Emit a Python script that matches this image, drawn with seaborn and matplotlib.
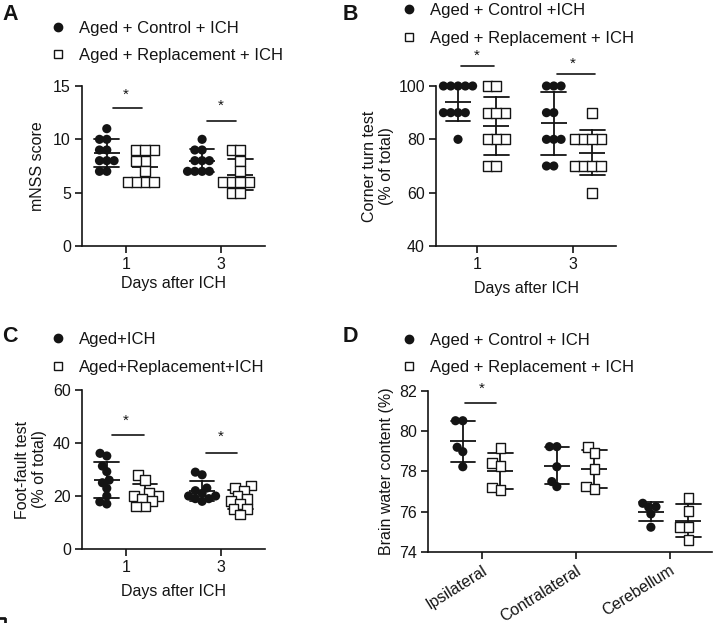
import numpy as np
import pandas as pd
import matplotlib
matplotlib.use("Agg")
import matplotlib.pyplot as plt
import seaborn as sns
from matplotlib.lines import Line2D

sns.set_style("ticks")
plt.rcParams["font.family"] = ["Liberation Sans", "DejaVu Sans"]
INK = "#141414"

# ---------------- data ----------------
groups = ["ctrl", "rep"]
days = ["1", "3"]
regions = ["Ipsilateral", "Contralateral", "Cerebellum"]

# A: mNSS score
A_ctrl_d1 = [11, 10, 10, 9, 9, 8, 8, 8, 7, 7]
A_rep_d1 = [9, 9, 9, 8, 8, 7, 6, 6, 6, 6]
A_ctrl_d3 = [10, 9, 9, 8, 8, 8, 7, 7, 7, 7]
A_rep_d3 = [9, 9, 8, 7, 6, 6, 6, 6, 5, 5]

# B: corner turn test
B_ctrl_d1 = [100, 100, 100, 100, 100, 90, 90, 90, 90, 80]
B_rep_d1 = [100, 100, 90, 90, 90, 80, 80, 80, 70, 70]
B_ctrl_d3 = [100, 100, 100, 90, 90, 80, 80, 80, 70, 70]
B_rep_d3 = [90, 80, 80, 80, 80, 70, 70, 70, 70, 60]

# C: foot-fault test
C_ctrl_d1 = [36.1, 35.1, 31.3, 29.2, 26.0, 25.0, 22.9, 20.0, 17.8, 17.0]
C_rep_d1 = [28, 26, 21, 20, 20, 19, 18, 16, 16]
C_ctrl_d3 = [29, 28, 23, 22, 21, 20, 20, 19, 19, 18]
C_rep_d3 = [24, 23, 22, 20, 19, 18, 17, 15, 15, 13]

# D: brain water content
D_ctrl_ipsi = [80.52, 80.52, 79.20, 78.98, 78.23]
D_rep_ipsi = [79.18, 78.43, 78.27, 77.20, 77.07]
D_ctrl_contra = [79.23, 79.23, 78.23, 77.49, 77.24]
D_rep_contra = [79.20, 78.93, 78.12, 77.24, 77.11]
D_ctrl_cereb = [76.41, 76.24, 76.21, 75.88, 75.22]
D_rep_cereb = [76.69, 76.03, 75.22, 75.22, 74.59]

labels_A = ["Aged + Control + ICH", "Aged + Replacement + ICH"]
labels_B = ["Aged + Control +ICH", "Aged + Replacement + ICH"]
labels_C = ["Aged+ICH", "Aged+Replacement+ICH"]
labels_D = ["Aged + Control + ICH", "Aged + Replacement + ICH"]


def build(cats, ctrl_lists, rep_lists):
    rows = []
    for c, cl, rl in zip(cats, ctrl_lists, rep_lists):
        rows += [(c, "ctrl", v) for v in cl]
        rows += [(c, "rep", v) for v in rl]
    return pd.DataFrame(rows, columns=["cat", "grp", "val"])


dfA = build(days, [A_ctrl_d1, A_ctrl_d3], [A_rep_d1, A_rep_d3])
dfB = build(days, [B_ctrl_d1, B_ctrl_d3], [B_rep_d1, B_rep_d3])
dfC = build(days, [C_ctrl_d1, C_ctrl_d3], [C_rep_d1, C_rep_d3])
dfD = build(regions, [D_ctrl_ipsi, D_ctrl_contra, D_ctrl_cereb],
            [D_rep_ipsi, D_rep_contra, D_rep_cereb])

# ---------------- figure ----------------
W, H = 717, 623
fig = plt.figure(figsize=(W / 100, H / 100), dpi=100)


def px_axes(x0, x1, ytop, ybot):
    return fig.add_axes([x0 / W, 1 - ybot / H, (x1 - x0) / W, (ybot - ytop) / H])


axA = px_axes(82, 265, 86, 246)
axB = px_axes(436, 616, 86, 246)
axC = px_axes(82, 265, 390, 549)
axD = px_axes(428, 712, 391, 551.7)
axes = [axA, axB, axC, axD]

LAYOUT_SIZE = 5.0      # swarm spacing (pt) -> slight overlap like GraphPad
CIRCLE_SIZE = 6.6
SQUARE_SIZE = 7.0


def draw(ax, df, order):
    common = dict(x="cat", y="val", hue="grp", order=order, hue_order=groups,
                  dodge=True, ax=ax, legend=False, size=LAYOUT_SIZE)
    sns.swarmplot(data=df[df.grp == "ctrl"], palette={"ctrl": INK, "rep": INK},
                  marker="o", linewidth=0, **common)
    n0 = len(ax.collections)
    sns.swarmplot(data=df[df.grp == "rep"], palette={"ctrl": "white", "rep": "white"},
                  marker="s", edgecolor=INK, linewidth=1.0, **common)
    for i, coll in enumerate(ax.collections):
        coll.set_clip_on(False)
        coll._final_size = SQUARE_SIZE if i >= n0 else CIRCLE_SIZE
    sns.pointplot(data=df, x="cat", y="val", hue="grp", order=order, hue_order=groups,
                  dodge=0.4, errorbar="sd", capsize=0.26, markers=["_", "_"],
                  linestyle="none", markersize=19, markeredgewidth=1.3,
                  palette={"ctrl": INK, "rep": INK}, err_kws={"linewidth": 1.3},
                  ax=ax, legend=False)


def style(ax, ylim, yticks, xlim):
    ax.set_xlim(*xlim)
    ax.set_ylim(*ylim)
    ax.set_yticks(yticks)
    sns.despine(ax=ax)
    for s in ["left", "bottom"]:
        ax.spines[s].set_linewidth(1.2)
        ax.spines[s].set_color(INK)
    ax.tick_params(length=5, width=1.2, color=INK, labelcolor=INK,
                   labelsize=11.5, pad=3)


def sig(ax, c, x0, x1, y, ystar):
    ax.plot([c + x0, c + x1], [y, y], color=INK, lw=1.2, clip_on=False)
    ax.text(c, ystar, "*", ha="center", va="center", fontsize=11, color=INK)


def legend(ax, labels, xmark_px, y1_px, y2_px):
    hs = [Line2D([], [], marker="o", ls="none", color=INK, markersize=6),
          Line2D([], [], marker="s", ls="none", mfc="white", mec=INK, mew=1.0,
                 markersize=6)]
    fs_px = 12 * 100 / 72
    x_left = xmark_px - 0.5 * fs_px
    yc = (y1_px + y2_px) / 2 + 1.5
    ax.legend(hs, labels, loc="center left",
              bbox_to_anchor=(x_left / W, 1 - yc / H), bbox_transform=fig.transFigure,
              frameon=False, fontsize=12, handlelength=1.0, handletextpad=0.75,
              borderpad=0, borderaxespad=0, labelspacing=0.75, labelcolor=INK)


# A
draw(axA, dfA, days)
style(axA, (0, 15), [0, 5, 10, 15], (-0.46, 1.46))
axA.set_xlabel("Days after ICH", fontsize=11.5, color=INK)
axA.set_ylabel("mNSS score", fontsize=11.5, color=INK)
axA.yaxis.set_label_coords(-0.2, 0.5)
axA.xaxis.set_label_coords(0.5, -0.19)
sig(axA, 0, -0.14, 0.17, 12.9, 14.2)
sig(axA, 1, -0.15, 0.16, 11.7, 13.1)
legend(axA, labels_A, 57.7, 27, 54)

# B
draw(axB, dfB, days)
style(axB, (40, 100), [40, 60, 80, 100], (-0.43, 1.45))
axB.set_xlabel("Days after ICH", fontsize=11.5, color=INK)
axB.set_ylabel("Corner turn test\n(% of total)", fontsize=11.5, color=INK)
axB.yaxis.set_label_coords(-0.233, 0.5)
axB.xaxis.set_label_coords(0.5, -0.22)
sig(axB, 0, -0.17, 0.18, 107.5, 111.4)
sig(axB, 1, -0.17, 0.23, 104.5, 108.3)
legend(axB, labels_B, 409, 9.0, 37)

# C
draw(axC, dfC, days)
style(axC, (0, 60), [0, 20, 40, 60], (-0.46, 1.46))
axC.set_xlabel("Days after ICH", fontsize=11.5, color=INK)
axC.set_ylabel("Foot-fault test\n(% of total)", fontsize=11.5, color=INK)
axC.yaxis.set_label_coords(-0.19, 0.5)
axC.xaxis.set_label_coords(0.5, -0.22)
sig(axC, 0, -0.15, 0.19, 43.0, 48.4)
sig(axC, 1, -0.16, 0.17, 36.1, 42.2)
legend(axC, labels_C, 58, 338, 366)

# D
draw(axD, dfD, regions)
style(axD, (74, 82), [74, 76, 78, 80, 82], (-0.57, 2.45))
axD.set_xlabel("")
axD.set_ylabel("Brain water content (%)", fontsize=11.5, color=INK)
axD.yaxis.set_label_coords(-0.12, 0.5)
axD.set_xticks(range(len(regions)))
axD.set_xticklabels(regions, rotation=32, ha="right", rotation_mode="anchor")
sig(axD, 0, -0.18, 0.15, 81.39, 82.1)
legend(axD, labels_D, 409, 338.3, 366.7)

# panel letters
for letter, x, y in [("A", 2, 4), ("B", 343, 4), ("C", 2, 326), ("D", 343, 326)]:
    fig.text(x / W, 1 - y / H, letter, fontsize=15.5, fontweight="bold",
             ha="left", va="top", color=INK)

# Let seaborn's beeswarm lay the points out at the spacing size, then show the
# markers at their full size (so neighbouring markers overlap slightly).
fig.canvas.draw()
for ax in axes:
    for coll in ax.collections:
        if "draw" in coll.__dict__:
            del coll.draw
        if hasattr(coll, "_final_size"):
            coll.set_sizes([coll._final_size ** 2])

fig.savefig("out.png", dpi=100)
